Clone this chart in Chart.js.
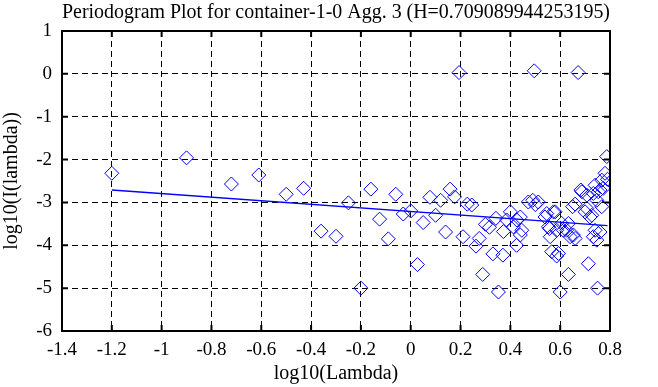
<!DOCTYPE html>
<html>
<head>
<meta charset="utf-8">
<script src="https://cdn.jsdelivr.net/npm/chart.js@4/dist/chart.umd.min.js"></script>
<style>
html,body{margin:0;padding:0;background:#fff;}
#wrap{width:658px;height:387px;position:relative;}
</style>
</head>
<body>
<div id="wrap"><canvas id="c"></canvas></div>
<script>
// ---- data ----
const titleText = 'Periodogram Plot for container-1-0 Agg. 3 (H=0.709089944253195)';
const xAxisTitle = 'log10(Lambda)';
const yAxisTitle = 'log10(I(lambda))';
const xTickLabels = ['-1.4','-1.2','-1','-0.8','-0.6','-0.4','-0.2','0','0.2','0.4','0.6','0.8'];
const yTickLabels = ['-6','-5','-4','-3','-2','-1','0','1'];

const logLambda = [
  -1.2, -0.90, -0.72, -0.61, -0.50, -0.43, -0.36, -0.30, -0.25, -0.20,
  -0.16, -0.125, -0.09, -0.06, -0.03, 0.0, 0.027, 0.05, 0.077, 0.10,
  0.12, 0.14, 0.158, 0.176, 0.194, 0.21, 0.227, 0.245, 0.262, 0.275,
  0.289, 0.30, 0.316, 0.33, 0.342, 0.352, 0.37, 0.372, 0.385, 0.40,
  0.412, 0.425, 0.426, 0.44, 0.44, 0.446, 0.472, 0.49, 0.496, 0.50,
  0.512, 0.539, 0.546, 0.553, 0.557, 0.56, 0.573, 0.58, 0.586, 0.586,
  0.60, 0.606, 0.613, 0.566, 0.593, 0.633, 0.633, 0.626, 0.64, 0.653,
  0.66, 0.65, 0.66, 0.672, 0.683, 0.687, 0.70, 0.707, 0.707, 0.713,
  0.72, 0.727, 0.733, 0.733, 0.74, 0.74, 0.747, 0.747, 0.75, 0.753,
  0.76, 0.76, 0.767, 0.767, 0.773, 0.78, 0.787, 0.79
];
const logI = [
  -2.32, -1.96, -2.57, -2.36, -2.81, -2.67, -3.67, -3.79, -3.01, -5.0,
  -2.69, -3.39, -3.85, -2.81, -3.27, -3.2, -4.45, -3.47, -2.88, -3.30,
  -2.95, -3.69, -2.69, -2.87, 0.03, -3.80, -3.04, -3.06, -4.02, -3.84,
  -4.68, -3.51, -3.58, -4.2, -3.37, -5.09, -4.23, -3.68, -3.41, -3.22,
  -3.57, -4.0, -3.41, -3.76, -3.34, -3.65, -2.99, -2.95, 0.07, -3.05,
  -2.99, -3.34, -3.26, -3.57, -3.61, -3.80, -3.22, -3.22, -4.25, -3.65,
  -5.09, -3.49, -3.65, -4.15, -4.19, -4.68, -3.49, -3.65, -3.80, -3.76,
  -3.84, -3.10, -3.04, 0.03, -2.71, -2.75, -3.22, -3.14, -2.83, -4.43,
  -3.34, -3.30, -2.79, -3.80, -2.60, -3.65, -2.95, -3.88, -5.0, -2.75,
  -2.71, -3.69, -3.10, -2.48, -2.67, -2.32, -1.93, -2.46
];
// fitted line endpoints
const fitX = [-1.2, 0.79];
const fitY = [-2.71, -3.54];

// ---- chart ----
const points = logLambda.map((x, i) => ({x: x, y: logI[i]}));
const fitLine = fitX.map((x, i) => ({x: x, y: fitY[i]}));
const FONT = 'Liberation Serif';

const framePlugin = {
  id: 'frame',
  afterDraw(chart) {
    const {ctx, chartArea: a, scales} = chart;
    ctx.save();
    ctx.strokeStyle = '#000';
    ctx.lineWidth = 2;
    ctx.setLineDash([]);
    ctx.strokeRect(a.left, a.top, a.right - a.left, a.bottom - a.top);
    const tl = 6;
    ctx.beginPath();
    scales.x.ticks.forEach((t) => {
      const px = scales.x.getPixelForValue(t.value);
      ctx.moveTo(px, a.bottom); ctx.lineTo(px, a.bottom - tl);
      ctx.moveTo(px, a.top); ctx.lineTo(px, a.top + tl);
    });
    scales.y.ticks.forEach((t) => {
      const py = scales.y.getPixelForValue(t.value);
      ctx.moveTo(a.left, py); ctx.lineTo(a.left + tl, py);
      ctx.moveTo(a.right, py); ctx.lineTo(a.right - tl, py);
    });
    ctx.stroke();
    ctx.restore();
  }
};

new Chart(document.getElementById('c'), {
  type: 'scatter',
  data: {
    datasets: [
      {
        label: 'periodogram',
        data: points,
        showLine: false,
        pointStyle: 'rectRot',
        pointRadius: 7,
        pointHoverRadius: 7,
        pointBorderWidth: 1,
        borderColor: '#0000ff',
        backgroundColor: 'rgba(0,0,0,0)',
        order: 2
      },
      {
        type: 'line',
        label: 'fit',
        data: fitLine,
        borderColor: '#0000ff',
        borderWidth: 1.3,
        pointRadius: 0,
        fill: false,
        order: 1
      }
    ]
  },
  options: {
    responsive: true,
    maintainAspectRatio: false,
    animation: false,
    events: [],
    layout: {padding: {left: 0, right: 48, top: 0, bottom: 0}},
    plugins: {
      legend: {display: false},
      tooltip: {enabled: false},
      title: {
        display: true,
        fullSize: false,
        text: titleText,
        color: '#000',
        font: {family: FONT, size: 20, weight: 'normal'},
        padding: {top: 1, bottom: 6}
      }
    },
    scales: {
      x: {
        type: 'linear',
        min: -1.4,
        max: 0.8,
        afterFit(scale) { scale.height = 56; },
        ticks: {
          stepSize: 0.2,
          color: '#000',
          font: {family: FONT, size: 19},
          padding: 8,
          maxRotation: 0,
          autoSkip: false,
          callback: (v, i) => xTickLabels[i]
        },
        grid: {color: '#000', lineWidth: 1, drawTicks: false},
        border: {display: false, dash: [6, 4]},
        title: {
          display: true,
          text: xAxisTitle,
          color: '#000',
          font: {family: FONT, size: 20},
          padding: {top: 0, bottom: 1}
        }
      },
      y: {
        type: 'linear',
        min: -6,
        max: 1,
        afterFit(scale) { scale.width = 62; },
        ticks: {
          stepSize: 1,
          color: '#000',
          font: {family: FONT, size: 19},
          padding: 10,
          autoSkip: false,
          callback: (v, i) => yTickLabels[i]
        },
        grid: {color: '#000', lineWidth: 1, drawTicks: false},
        border: {display: false, dash: [6, 4]},
        title: {
          display: true,
          text: yAxisTitle,
          color: '#000',
          font: {family: FONT, size: 20},
          padding: {top: 0, bottom: 0}
        }
      }
    }
  },
  plugins: [framePlugin]
});
</script>
</body>
</html>
